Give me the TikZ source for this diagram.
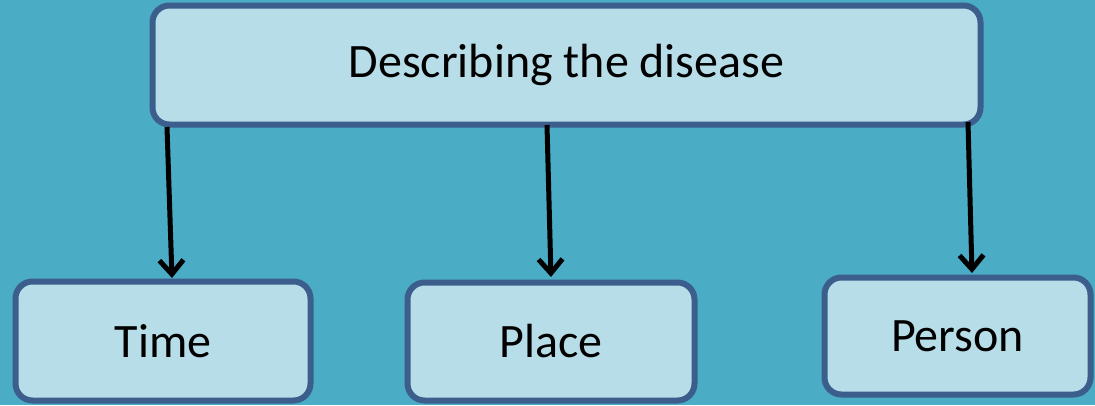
\documentclass[tikz,border=0pt]{standalone}
\usepackage{fontspec}
\setmainfont{Carlito}
\usetikzlibrary{arrows.meta}
\definecolor{bg}{HTML}{4BACC6}
\definecolor{boxfill}{HTML}{B7DDE8}
\definecolor{boxline}{HTML}{3B5E8C}
\tikzset{
  box/.style={draw=boxline, fill=boxfill, line width=6pt, rounded corners=17pt,
    inner sep=0pt, font=\fontsize{48}{58}\selectfont, text=black},
  arr/.style={draw=black, line width=5pt, -{Straight Barb[length=14pt,width=24pt,line width=5pt]}}
}
\begin{document}
\begin{tikzpicture}[x=1pt,y=-1pt]
\fill[bg] (0,0) rectangle (1095,405);
\useasboundingbox (0,0) rectangle (1095,405);
\node[box, minimum width=828pt, minimum height=119pt] (top) at (566.5,65) {Describing the disease};
\node[box, minimum width=295pt, minimum height=119pt] (time) at (163,341) {Time};
\node[box, minimum width=287pt, minimum height=118pt] (place) at (551,341.5) {Place};
\node[box, minimum width=266pt, minimum height=117pt] (person) at (957.5,336) {Person};
\coordinate (s1) at (167,127);
\coordinate (e1) at (172,278);
\coordinate (s2) at (547,125);
\coordinate (e2) at (551,277);
\coordinate (s3) at (968,122);
\coordinate (e3) at (972,273);
\draw[arr] (s1) -- (e1);
\draw[arr] (s2) -- (e2);
\draw[arr] (s3) -- (e3);
\end{tikzpicture}
\end{document}
